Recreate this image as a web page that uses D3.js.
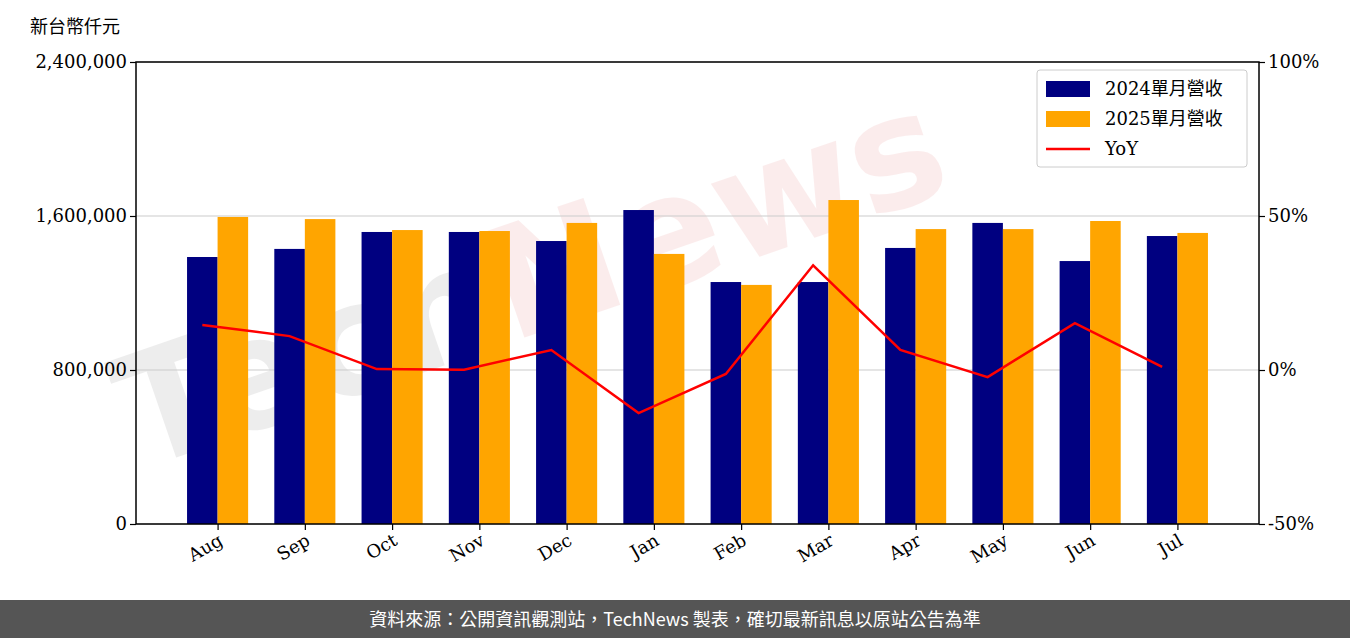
<!DOCTYPE html>
<html><head><meta charset="utf-8">
<script src="https://cdn.jsdelivr.net/npm/d3@7"></script>
<style>
body{margin:0;background:#fff;}
svg text{font-family:"DejaVu Serif","Liberation Serif","Noto Sans CJK TC",serif;}
svg text.wm{font-family:"DejaVu Sans",sans-serif;}
svg text.cjk{font-family:"Noto Sans CJK TC",sans-serif;}
</style></head>
<body><svg id="chart" width="1350" height="638"></svg>
<script>
// data
var months = ["Aug","Sep","Oct","Nov","Dec","Jan","Feb","Mar","Apr","May","Jun","Jul"];
var rev2024 = [1387000,1429000,1517000,1517000,1470000,1631000,1257000,1257000,1434000,1564000,1366000,1496000];
var rev2025 = [1595000,1584000,1527000,1522000,1564000,1403000,1242000,1683000,1532000,1532000,1574000,1512000];
var yoy = [14.6,11.0,0.3,0.1,6.5,-14.0,-1.3,34.0,6.5,-2.3,15.2,1.0];
var leftTicks = [0,800000,1600000,2400000];
var rightTicks = [-50,0,50,100];

var svg = d3.select("#chart");
var margin = {left:136, right:1259, top:62, bottom:524};
var bw = 0.35;

var x = d3.scaleLinear().domain([-0.935, 11.935]).range([margin.left, margin.right]);
var y = d3.scaleLinear().domain([0, 2400000]).range([margin.bottom, margin.top]);
var y2 = d3.scaleLinear().domain([-50, 100]).range([margin.bottom, margin.top]);

// watermark
var wm = svg.append("text").attr("class","wm").attr("transform","translate(140,470) rotate(-19)")
  .attr("font-size",155).attr("font-weight","bold").attr("opacity",0.1);
wm.append("tspan").attr("fill","#555").text("Tech");
wm.append("tspan").attr("fill","#e05050").text("News");

// grid
svg.append("g").selectAll("line").data(leftTicks).enter().append("line")
  .attr("x1",margin.left).attr("x2",margin.right)
  .attr("y1",d=>y(d)).attr("y2",d=>y(d))
  .attr("stroke","#ccc").attr("stroke-width",1.2);

// bars
svg.append("g").selectAll("rect").data(rev2024).enter().append("rect")
  .attr("x",(d,i)=>x(i-bw)).attr("width",x(bw)-x(0))
  .attr("y",d=>y(d)).attr("height",d=>y(0)-y(d)).attr("fill","#000080");
svg.append("g").selectAll("rect").data(rev2025).enter().append("rect")
  .attr("x",(d,i)=>x(i)).attr("width",x(bw)-x(0))
  .attr("y",d=>y(d)).attr("height",d=>y(0)-y(d)).attr("fill","#ffa500");

// yoy line
var line = d3.line().x((d,i)=>x(i-bw/2)).y(d=>y2(d));
svg.append("path").datum(yoy).attr("d",line).attr("fill","none")
  .attr("stroke","red").attr("stroke-width",2.5);

// axes
var leftAxis = d3.axisLeft(y).tickValues(leftTicks).tickFormat(d3.format(",")).tickSizeOuter(0);
var gl = svg.append("g").attr("transform",`translate(${margin.left},0)`).call(leftAxis);
var rightAxis = d3.axisRight(y2).tickValues(rightTicks).tickFormat(d=>d+"%").tickSizeOuter(0);
var gr = svg.append("g").attr("transform",`translate(${margin.right},0)`).call(rightAxis);
var bottomAxis = d3.axisBottom(x).tickValues(d3.range(12)).tickFormat(i=>months[i]).tickSizeOuter(0);
var gb = svg.append("g").attr("transform",`translate(0,${margin.bottom})`).call(bottomAxis);
gb.selectAll("text").attr("text-anchor","end").attr("dy",null).attr("y",0)
  .attr("transform","translate(6,20) rotate(-30)");
[gl,gr,gb].forEach(g=>{
  g.selectAll("text").attr("font-size",18).attr("fill","#000");
  g.selectAll("line").attr("stroke","#000").attr("stroke-width",1.2);
  g.select(".domain").remove();
});
svg.append("rect").attr("x",margin.left).attr("y",margin.top)
  .attr("width",margin.right-margin.left).attr("height",margin.bottom-margin.top)
  .attr("fill","none").attr("stroke","#000").attr("stroke-width",1.5);

svg.append("text").attr("class","cjk").attr("x",30).attr("y",33).attr("font-size",18).text("新台幣仟元");

// legend
var lg = svg.append("g").attr("transform","translate(1037,70)");
lg.append("rect").attr("width",210).attr("height",97).attr("rx",3)
  .attr("fill","#fff").attr("fill-opacity",0.85).attr("stroke","#ccc");
var items = [["2024單月營收","#000080"],["2025單月營收","#ffa500"],["YoY","red"]];
items.forEach((it,i)=>{
  var cy = 19 + i*30;
  if (i<2) lg.append("rect").attr("x",9).attr("y",cy-8).attr("width",44).attr("height",16).attr("fill",it[1]);
  else lg.append("line").attr("x1",9).attr("x2",53).attr("y1",cy).attr("y2",cy).attr("stroke",it[1]).attr("stroke-width",2.5);
  lg.append("text").attr("x",68).attr("y",cy+6).attr("font-size",18).text(it[0]);
});

// footer
svg.append("rect").attr("x",0).attr("y",600).attr("width",1350).attr("height",38).attr("fill","#555");
svg.append("text").attr("class","cjk").attr("x",675).attr("y",626).attr("text-anchor","middle")
  .attr("font-size",18).attr("fill","#fff")
  .text("資料來源：公開資訊觀測站，TechNews 製表，確切最新訊息以原站公告為準");
</script></body></html>
